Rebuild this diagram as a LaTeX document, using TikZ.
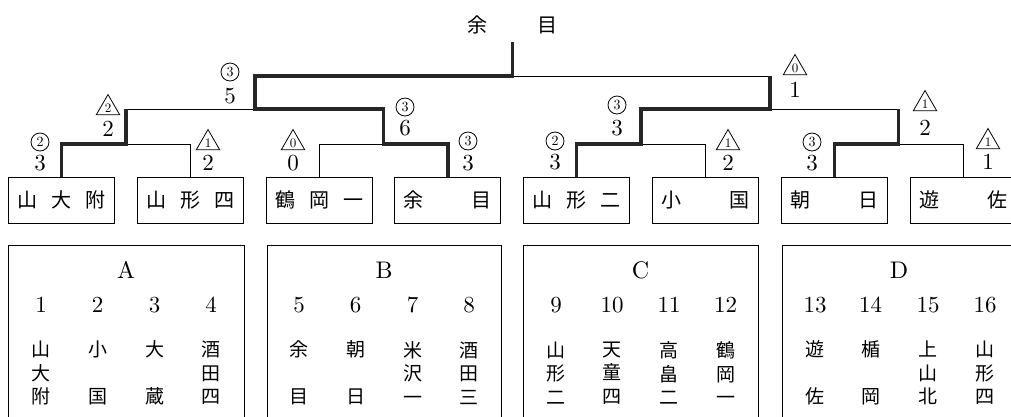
\documentclass[tikz,border=0pt]{standalone}
\usepackage{fontspec}
\newfontfamily\jp{Noto Sans CJK JP}
\newfontfamily\suji{lmroman10-regular}[Extension=.otf]
\usetikzlibrary{shapes.geometric}

\begin{document}
\begin{tikzpicture}[
  x=1pt, y=-1pt,
  every node/.style={inner sep=0pt, font=\jp\fontsize{20}{24}\selectfont},
  team/.style={draw, line width=0.9pt, minimum width=106pt, minimum height=46pt},
  win/.style={line width=3.4pt, line join=miter, color=black!85},
  lose/.style={line width=0.9pt}
]
\tikzset{
  maru/.style={draw, circle, line width=0.8pt, minimum size=18pt, font=\suji\fontsize{14}{14}\selectfont},
  sankaku/.style={draw, regular polygon, regular polygon sides=3, line width=0.8pt, minimum size=27pt, font=\suji\fontsize{13}{13}\selectfont},
  ten/.style={font=\suji\fontsize{23}{23}\selectfont},
  kumi/.style={draw, line width=0.9pt, minimum height=190pt, anchor=north},
  moji/.style={font=\suji\fontsize{24}{24}\selectfont},
  bango/.style={font=\suji\fontsize{23}{23}\selectfont},
  namae/.style={align=center, font=\jp\fontsize{19}{23.5}\selectfont}
}
\clip (0,0) rectangle (1011,416);

% 決勝
\node (yu) at (477,25) {余};
\node (me) at (547,25) {目};

% チーム
\node[team] (t1) at (61.5,200) {\makebox[88pt]{山\hfill 大\hfill 附}};
\node[team] (t2) at (190.3,200) {\makebox[88pt]{山\hfill 形\hfill 四}};
\node[team] (t3) at (319.1,200) {\makebox[88pt]{鶴\hfill 岡\hfill 一}};
\node[team] (t4) at (447.9,200) {\makebox[88pt]{余\hfill 目}};
\node[team] (t5) at (576.7,200) {\makebox[88pt]{山\hfill 形\hfill 二}};
\node[team] (t6) at (705.5,200) {\makebox[88pt]{小\hfill 国}};
\node[team] (t7) at (834.3,200) {\makebox[88pt]{朝\hfill 日}};
\node[team] (t8) at (963.1,200) {\makebox[88pt]{遊\hfill 佐}};

% 組み合わせの節
\coordinate (j1) at (126,144);
\coordinate (j2) at (383.5,144);
\coordinate (j3) at (641,144);
\coordinate (j4) at (898.7,144);
\coordinate (s1) at (255,109);
\coordinate (s2) at (770,109);
\coordinate (f) at (512.5,76);
\coordinate (top) at (512.5,42);

\draw[lose] (t2.north) |- (j1);
\draw[lose] (j1 |- s1) -- (s1);
\draw[lose] (t3.north) |- (j2);
\draw[lose] (s2 |- f) -- (f);
\draw[lose] (t6.north) |- (j3);
\draw[lose] (j4 |- s2) -- (s2);
\draw[lose] (t8.north) |- (j4);
\draw[win] (t1.north) |- (j1) -- (j1 |- s1);
\draw[win] (t4.north) |- (j2) -- (j2 |- s1) -- (s1) -- (s1 |- f) -- (f) -- (top);
\draw[win] (t5.north) |- (j3) -- (j3 |- s2) -- (s2) -- (s2 |- f);
\draw[win] (t7.north) |- (j4) -- (j4 |- s2);

% 得点
\node[maru] (p1) at (40,142) {2};       \node[ten] (q1) at (40,163) {3};
\node[sankaku] (p2) at (208,143) {1};   \node[ten] (q2) at (208,163) {2};
\node[sankaku] (p3) at (293,143) {0};   \node[ten] (q3) at (293,163) {0};
\node[maru] (p4) at (468,141) {3};      \node[ten] (q4) at (468,163) {3};
\node[maru] (p5) at (555,141) {2};      \node[ten] (q5) at (555,162) {3};
\node[sankaku] (p6) at (728,143) {1};   \node[ten] (q6) at (728,163) {2};
\node[maru] (p7) at (812,142) {3};      \node[ten] (q7) at (812,163) {3};
\node[sankaku] (p8) at (988,142) {1};   \node[ten] (q8) at (988,162) {1};
\node[sankaku] (p9) at (108,108) {2};   \node[ten] (q9) at (108,129) {2};
\node[maru] (p10) at (405,107) {3};     \node[ten] (q10) at (405,128) {6};
\node[maru] (p11) at (617,105) {3};     \node[ten] (q11) at (617,128) {3};
\node[sankaku] (p12) at (925,104) {1};  \node[ten] (q12) at (925,128) {2};
\node[maru] (p13) at (230,72) {3};      \node[ten] (q13) at (230,96) {5};
\node[sankaku] (p14) at (795,68) {0};   \node[ten] (q14) at (795,90) {1};

% 組
\node[kumi, minimum width=236pt] (gA) at (126,245) {};
\node[kumi, minimum width=234pt] (gB) at (384,245) {};
\node[kumi, minimum width=235pt] (gC) at (640.5,245) {};
\node[kumi, minimum width=234pt] (gD) at (899,245) {};
\node[moji] (lA) at (126,270) {A};
\node[moji] (lB) at (384,270) {B};
\node[moji] (lC) at (640.5,270) {C};
\node[moji] (lD) at (899,270) {D};

\foreach \n/\x/\name in {
  1/41/{山\\大\\附}, 2/97.5/{小\\\mbox{}\\国}, 3/154.5/{大\\\mbox{}\\蔵}, 4/211/{酒\\田\\四},
  5/299/{余\\\mbox{}\\目}, 6/355.5/{朝\\\mbox{}\\日}, 7/412.5/{米\\沢\\一}, 8/469/{酒\\田\\三},
  9/556/{山\\形\\二}, 10/612/{天\\童\\四}, 11/669/{高\\畠\\二}, 12/725.5/{鶴\\岡\\一},
  13/815/{遊\\\mbox{}\\佐}, 14/870.5/{楯\\\mbox{}\\岡}, 15/928/{上\\山\\北}, 16/985/{山\\形\\四}}
{
  \node[bango] (n\n) at (\x,305) {\n};
  \node[namae] (v\n) at (\x,373) {\name};
}
\end{tikzpicture}
\end{document}
